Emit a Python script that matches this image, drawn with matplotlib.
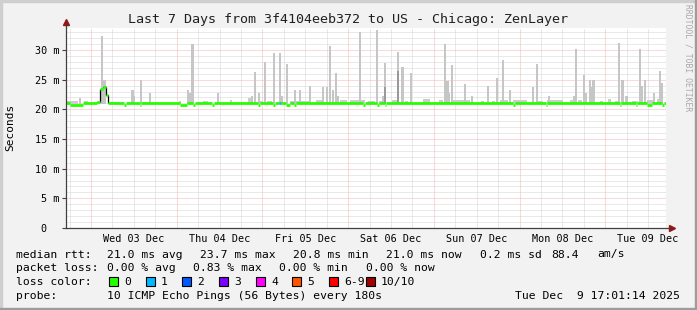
import matplotlib
matplotlib.use('Agg')
import matplotlib.pyplot as plt
from matplotlib.patches import Rectangle

W, H, DPI = 697, 310, 100

# ---------------- data ----------------
title = "Last 7 Days from 3f4104eeb372 to US - Chicago: ZenLayer"
ylabel = "Seconds"
day_labels = ["Wed 03 Dec", "Thu 04 Dec", "Fri 05 Dec", "Sat 06 Dec",
              "Sun 07 Dec", "Mon 08 Dec", "Tue 09 Dec"]
first_midnight_h = 6.98      # window starts Tue 02 Dec 17:01 -> Wed 03 Dec 00:00
window_h = 168
y_ticks = [0, 5, 10, 15, 20, 25, 30]
y_tick_labels = ["0  ", "5 m", "10 m", "15 m", "20 m", "25 m", "30 m"]
y_max = 33.7

# median rtt (ms) as steps: start hour, value, loss class
median_start_h = [0.0, 1.1, 4.8, 8.7, 9.5, 10.4, 11.2, 11.8, 16.2, 16.8, 20.7, 21.1,
                  31.9, 33.9, 35.6, 36.0, 40.9, 41.4, 53.8, 54.3, 58.0, 58.5, 59.6, 60.2,
                  61.6, 62.7, 63.8, 64.4, 83.2, 83.6, 87.1, 87.5, 89.3, 89.7, 125.2, 125.6,
                  134.4, 134.8, 155.1, 155.5, 159.6, 160.0, 162.7, 164.1, 166.9, 167.3]
median_ms = [21.0, 20.8, 21.0, 21.2, 23.4, 23.7, 22.4, 21.0, 20.7, 21.0, 20.8, 21.0,
             20.8, 21.0, 20.8, 21.0, 20.8, 21.0, 20.8, 21.0, 20.8, 21.0, 21.0, 21.0,
             20.8, 21.0, 20.8, 21.0, 20.8, 21.0, 20.8, 21.0, 20.8, 21.0, 20.8, 21.0,
             20.8, 21.0, 20.8, 21.0, 20.8, 21.0, 20.8, 21.0, 20.8, 21.0]
median_loss = [0] * 22 + [1] + [0] * 23

# smoke spikes (hour, top ms)
spike_h = [3.9, 10.1, 10.8, 18.6, 19.0, 21.0, 23.5, 34.2, 34.7, 35.4, 42.6,
           52.1, 52.9, 54.0, 55.7, 58.2, 59.9, 60.5, 61.9, 64.1, 65.5, 68.3,
           72.0, 73.1, 73.9, 74.8, 75.6, 76.2, 82.3, 87.1, 88.8, 89.3, 93.0,
           94.2, 96.6, 106.1, 106.8, 107.2, 108.1, 111.7, 113.7, 118.2, 120.7,
           122.4, 124.3, 130.8, 131.9, 135.2, 142.2, 142.8, 145.0, 145.6, 146.7,
           147.3, 147.7, 154.8, 155.9, 157.1, 160.7, 161.3, 162.1, 164.6, 166.3, 166.9]
spike_top_ms = [21.9, 32.3, 25.0, 23.2, 22.2, 25.0, 22.8, 23.2, 22.8, 31.0, 22.7,
                22.3, 26.3, 22.7, 27.9, 29.5, 29.5, 22.2, 27.7, 23.2, 23.3, 24.0,
                23.8, 23.8, 30.7, 23.3, 26.2, 22.2, 33.0, 33.3, 22.3, 27.8, 29.7,
                27.2, 26.2, 31.0, 24.7, 22.7, 27.5, 24.2, 22.3, 24.0, 25.3,
                28.3, 23.2, 23.8, 27.7, 22.2, 22.2, 30.2, 25.8, 22.7, 25.0,
                23.8, 25.0, 31.2, 25.0, 22.2, 30.2, 24.0, 25.0, 22.7, 26.5, 24.4]

# darker smoke cores (hour, top ms)
dark_smoke_h = [89.3, 93.0]
dark_smoke_top_ms = [23.8, 26.5]

# low smoke bands (start hour, end hour, top ms)
low_start_h = [0.3, 5.0, 12.3, 21.8, 31.6, 38.4, 45.9, 51.0, 54.3, 56.3, 62.7, 70.0,
               76.7, 79.5, 84.6, 87.6, 91.3, 94.9, 100.0, 104.4, 108.4, 116.2, 119.3,
               121.5, 125.2, 132.2, 134.7, 141.1, 143.4, 146.7, 149.5, 151.8, 153.7,
               156.5, 158.5, 162.7, 165.5]
low_end_h = [3.4, 6.2, 15.1, 22.7, 32.2, 39.8, 46.5, 52.4, 55.2, 57.7, 68.3, 72.0,
             78.7, 83.7, 86.5, 88.5, 92.7, 95.8, 101.9, 105.6, 113.1, 117.0, 120.1,
             123.8, 129.1, 133.6, 139.2, 142.0, 144.5, 148.1, 150.4, 152.6, 154.6,
             157.4, 160.2, 164.4, 167.2]
low_top_ms = [21.4, 21.4, 21.3, 21.3, 21.4, 21.4, 21.6, 21.9, 21.4, 21.4, 21.4, 21.6,
              21.5, 21.5, 21.4, 21.4, 21.5, 21.4, 21.8, 21.5, 21.6, 21.4, 21.4,
              21.5, 21.5, 21.4, 21.5, 21.5, 21.6, 21.5, 21.4, 21.8, 21.4,
              22.2, 21.4, 21.5, 21.8]
smoke_base_ms = 20.9

loss_labels = ["0", "1", "2", "3", "4", "5", "6-9", "10/10"]
loss_colors = ["#26ff00", "#00b8ff", "#0059ff", "#7e00ff", "#ff00ff", "#ff5500", "#ff0000", "#a10000"]

stats_rtt = [("median rtt:", 16), ("21.0 ms avg", 107), ("23.7 ms max", 200),
             ("20.8 ms min", 293), ("21.0 ms now", 386), ("0.2 ms sd", 480),
             ("88.4", 551), ("am/s", 597)]
stats_loss = [("packet loss:", 16), ("0.00 % avg", 107), ("0.83 % max", 193),
              ("0.00 % min", 279), ("0.00 % now", 366)]
probe_text = "10 ICMP Echo Pings (56 Bytes) every 180s"
stamp_text = "Tue Dec  9 17:01:14 2025"
watermark = "RRDTOOL / TOBI OETIKER"

# ---------------- drawing ----------------
MONO = "DejaVu Sans Mono"
plt.rcParams['font.family'] = MONO

fig = plt.figure(figsize=(W / DPI, H / DPI), dpi=DPI, facecolor="#f2f2f2")
# frame
fig.patches.append(Rectangle((0, 0), 2 / W, 1, transform=fig.transFigure, color="#cfcfcf", zorder=0))
fig.patches.append(Rectangle((0, 1 - 2 / H), 1, 2 / H, transform=fig.transFigure, color="#cfcfcf", zorder=0))
fig.patches.append(Rectangle((1 - 2 / W, 0), 2 / W, 1, transform=fig.transFigure, color="#9c9c9c", zorder=0))
fig.patches.append(Rectangle((0, 0), 1, 2 / H, transform=fig.transFigure, color="#9c9c9c", zorder=0))

x0, x1, ytop, ybot = 66, 666, 28, 228
ax = fig.add_axes([x0 / W, 1 - ybot / H, (x1 - x0) / W, (ybot - ytop) / H])
ax.set_facecolor("white")
ax.set_xlim(0, window_h)
ax.set_ylim(0, y_max)

# grid
dot = (0, (1, 1))
px = 0.72
minor_c = "#d4d4d4"
major_c = "#f4b4b4"
for v in range(1, int(y_max) + 1):
    if v % 5:
        ax.axhline(v, color=minor_c, lw=px, ls=dot, zorder=1)
for v in y_ticks[1:]:
    ax.axhline(v, color=major_c, lw=px, ls=dot, zorder=1.2)
for d in range(-1, 7):
    base = first_midnight_h + 24 * d
    if 0 < base < window_h:
        ax.axvline(base, color=major_c, lw=px, ls=dot, zorder=1.2)
    for off in (6, 12, 18):
        hh = base + off
        if 0 < hh < window_h:
            ax.axvline(hh, color=minor_c, lw=px, ls=dot, zorder=1)

# smoke
bw = 0.72
ax.bar(low_start_h, [t - smoke_base_ms for t in low_top_ms],
       width=[e - s for s, e in zip(low_start_h, low_end_h)],
       bottom=smoke_base_ms, align="edge", color="#cccccc", lw=0, zorder=2)
ax.bar(spike_h, [t - smoke_base_ms for t in spike_top_ms], width=bw,
       bottom=smoke_base_ms, color="#c6c6c6", lw=0, zorder=2)
ax.bar(dark_smoke_h, [t - smoke_base_ms for t in dark_smoke_top_ms], width=bw,
       bottom=smoke_base_ms, color="#9a9a9a", lw=0, zorder=2.1)

# median line: black steps where the value jumps, loss-coloured segments on top
ends = median_start_h[1:] + [window_h]
for i in range(1, len(median_ms)):
    if abs(median_ms[i] - median_ms[i - 1]) > 0.5:
        ax.vlines(median_start_h[i], median_ms[i - 1], median_ms[i], color="black", lw=0.9, zorder=3)
        ax.hlines(median_ms[i - 1], median_start_h[i - 1], median_start_h[i], color="black", lw=0.9, zorder=3)
for s, e, v, l in zip(median_start_h, ends, median_ms, median_loss):
    ax.hlines(v, s, e, color=loss_colors[l], lw=2.0, zorder=4)

# axes
for sp in ("top", "right", "left", "bottom"):
    ax.spines[sp].set_visible(False)
ax.plot([0, 0], [0, 1.03], transform=ax.transAxes, color="#404040", lw=0.9, clip_on=False, zorder=5)
ax.plot([0, 1.01], [0, 0], transform=ax.transAxes, color="#404040", lw=0.9, clip_on=False, zorder=5)
ax.plot([0], [1.03], transform=ax.transAxes, marker="^", ms=5, color="#8b1a1a", clip_on=False, zorder=6)
ax.plot([1.01], [0], transform=ax.transAxes, marker=">", ms=5, color="#8b1a1a", clip_on=False, zorder=6)

ax.set_yticks(y_ticks)
ax.set_yticklabels(y_tick_labels, fontsize=7.3, family=MONO)
ax.tick_params(axis="y", length=3, width=0.8, pad=2, color="#404040")
noon = [first_midnight_h + 12 + 24 * d for d in range(len(day_labels))]
ax.set_xticks(noon)
ax.set_xticklabels(day_labels, fontsize=7.3, family=MONO)
ax.tick_params(axis="x", length=0, pad=4)

fig.text(348 / W, 1 - 19 / H, title, ha="center", va="center", fontsize=9.6, color="#202020")
fig.text(10 / W, 1 - 127 / H, ylabel, rotation=90, ha="center", va="center", fontsize=8)
fig.text(688 / W, 1 - 58 / H, watermark, rotation=270, ha="center", va="center",
         fontsize=5.8, color="#a8a8a8")

LF = 8.2
def row(items, y):
    for t, xp in items:
        fig.text(xp / W, 1 - y / H, t, ha="left", va="center", fontsize=LF)

row(stats_rtt, 254.5)
row(stats_loss, 268.3)
row([("loss color:", 16)], 281.7)
sq_x = [109, 146, 182, 219, 256, 292, 329, 366]
for xp, lab, col in zip(sq_x, loss_labels, loss_colors):
    fig.patches.append(Rectangle((xp / W, 1 - 286 / H), 9 / W, 9 / H, transform=fig.transFigure,
                                 facecolor=col, edgecolor="black", lw=0.8, zorder=3))
    fig.text((xp + 15) / W, 1 - 281.7 / H, lab, ha="left", va="center", fontsize=LF)
row([("probe:", 16), (probe_text, 107)], 295.7)
fig.text(680 / W, 1 - 295.7 / H, stamp_text, ha="right", va="center", fontsize=LF)

fig.savefig("out.png", dpi=DPI, facecolor=fig.get_facecolor())
